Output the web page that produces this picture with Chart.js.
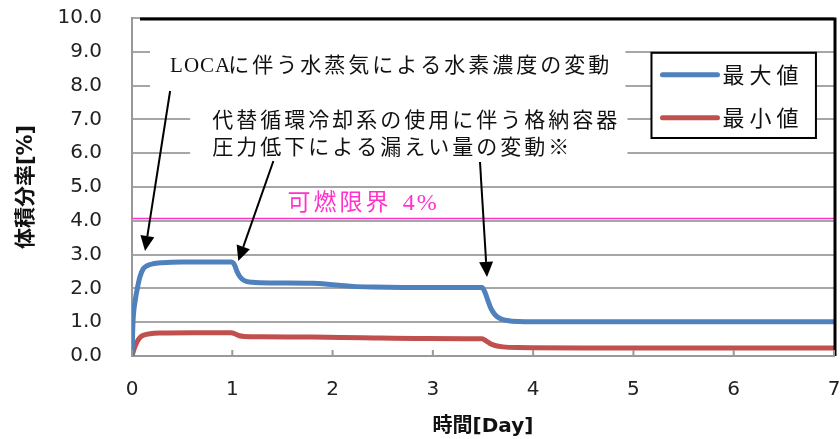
<!DOCTYPE html>
<html>
<head>
<meta charset="utf-8">
<script src="https://cdn.jsdelivr.net/npm/chart.js@4"></script>
<style>
  html, body { margin: 0; padding: 0; background: #fff; }
  #wrap { width: 840px; height: 439px; }
</style>
</head>
<body>
<div id="wrap"><canvas id="chart" width="840" height="439"></canvas></div>
<script>
// values (day, volume %)
const maxDay = [0, 0.01, 0.03, 0.06, 0.08, 0.11, 0.15, 0.21, 0.3, 0.5, 0.8, 0.99, 1.02, 1.05, 1.08, 1.12, 1.2, 1.4, 1.8, 2.0, 2.2, 2.4, 2.7, 3.0, 3.49, 3.52, 3.55, 3.58, 3.62, 3.67, 3.74, 3.85, 4.2, 5, 6, 7];
const maxVal = [0, 1.0, 1.6, 2.1, 2.35, 2.57, 2.67, 2.73, 2.76, 2.78, 2.78, 2.78, 2.71, 2.48, 2.33, 2.23, 2.18, 2.16, 2.15, 2.11, 2.06, 2.04, 2.03, 2.03, 2.03, 1.88, 1.63, 1.4, 1.22, 1.11, 1.05, 1.02, 1.01, 1.01, 1.01, 1.01];
const minDay = [0, 0.02, 0.05, 0.08, 0.12, 0.18, 0.3, 0.6, 0.99, 1.03, 1.07, 1.12, 1.3, 1.8, 2.3, 2.9, 3.49, 3.53, 3.57, 3.62, 3.7, 3.85, 4.5, 7];
const minVal = [0, 0.2, 0.42, 0.55, 0.62, 0.66, 0.68, 0.69, 0.69, 0.65, 0.6, 0.58, 0.57, 0.56, 0.54, 0.52, 0.51, 0.45, 0.37, 0.31, 0.27, 0.25, 0.24, 0.24];
const limitDay = [0, 7];
const limitVal = [4.07, 4.07];

const xTicks = [0, 1, 2, 3, 4, 5, 6, 7];
const seriesNames = ["最大値", "最小値"];
const seriesColors = ["#4f81bd", "#c0504d"];
const limitColor = "#ff33cc";

const yTitle = "体積分率[%]";
const xTitle = "時間[Day]";
const noteLoca = ["LOCA", "に伴う水蒸気による水素濃度の変動"];
const noteLeak = ["代替循環冷却系の使用に伴う格納容器", "圧力低下による漏えい量の変動※"];
const noteLimit = ["可燃限界", "4%"];

// annotation anchors, in data units
const arrows = [
  { from: [0.38, 7.84], to: [0.13, 3.11] },
  { from: [1.41, 5.77], to: [1.06, 2.81] },
  { from: [3.47, 5.74], to: [3.54, 2.34] },
];
const maskBoxes = [
  { x0: 0.18, x1: 4.92, y0: 9.35, y1: 7.75 },
  { x0: 0.58, x1: 4.94, y0: 7.55, y1: 5.55 },
];

const pts = (xs, ys) => xs.map((x, i) => ({ x: x, y: ys[i] }));

const serifCJK = "'Liberation Serif', 'Noto Sans CJK JP', serif";
const sansCJK = "'DejaVu Sans', 'Noto Sans CJK JP', sans-serif";

const annotate = {
  id: "annotate",
  afterDraw: function (chart) {
    const ctx = chart.ctx;
    const xs = chart.scales.x;
    const ys = chart.scales.y;
    const px = (v) => xs.getPixelForValue(v);
    const py = (v) => ys.getPixelForValue(v);
    const area = chart.chartArea;

    ctx.save();
    // frame: black top and right edge
    ctx.strokeStyle = "#000";
    ctx.lineWidth = 3;
    ctx.beginPath();
    ctx.moveTo(area.left + 8, area.top + 1);
    ctx.lineTo(area.right + 1, area.top + 1);
    ctx.lineTo(area.right + 1, area.bottom);
    ctx.stroke();

    // inward tick marks on the x axis
    ctx.strokeStyle = "#999";
    ctx.lineWidth = 2;
    for (const t of xTicks) {
      ctx.beginPath();
      ctx.moveTo(px(t), area.bottom);
      ctx.lineTo(px(t), area.bottom - 6);
      ctx.stroke();
    }

    // white boxes behind the notes
    ctx.fillStyle = "#fff";
    for (const b of maskBoxes) {
      ctx.fillRect(px(b.x0), py(b.y0), px(b.x1) - px(b.x0), py(b.y1) - py(b.y0));
    }

    // notes
    ctx.fillStyle = "#111";
    ctx.textBaseline = "middle";
    ctx.textAlign = "left";
    ctx.font = "21px " + serifCJK;
    ctx.letterSpacing = "1px";
    ctx.fillText(noteLoca[0], px(0.38), py(8.56));
    ctx.letterSpacing = "3px";
    ctx.fillText(noteLoca[1], px(0.96), py(8.56));
    ctx.fillText(noteLeak[0], px(0.8), py(6.93));
    ctx.fillText(noteLeak[1], px(0.8), py(6.14));

    ctx.fillStyle = limitColor;
    ctx.font = "23px " + serifCJK;
    ctx.fillText(noteLimit[0], px(1.55), py(4.5));
    ctx.letterSpacing = "2px";
    ctx.font = "24px " + serifCJK;
    ctx.fillText(noteLimit[1], px(2.7), py(4.5));
    ctx.letterSpacing = "0px";

    // arrows
    ctx.strokeStyle = "#000";
    ctx.fillStyle = "#000";
    ctx.lineWidth = 2;
    for (const a of arrows) {
      const x1 = px(a.from[0]), y1 = py(a.from[1]);
      const x2 = px(a.to[0]), y2 = py(a.to[1]);
      const ang = Math.atan2(y2 - y1, x2 - x1);
      const hl = 15, hw = 7;
      const bx = x2 - hl * Math.cos(ang), by = y2 - hl * Math.sin(ang);
      ctx.beginPath();
      ctx.moveTo(x1, y1);
      ctx.lineTo(bx, by);
      ctx.stroke();
      ctx.beginPath();
      ctx.moveTo(x2, y2);
      ctx.lineTo(bx + hw * Math.sin(ang), by - hw * Math.cos(ang));
      ctx.lineTo(bx - hw * Math.sin(ang), by + hw * Math.cos(ang));
      ctx.closePath();
      ctx.fill();
    }

    // legend box
    const lx0 = px(5.18), lx1 = px(6.82), ly0 = py(8.97), ly1 = py(6.45);
    ctx.fillStyle = "#fff";
    ctx.fillRect(lx0, ly0, lx1 - lx0, ly1 - ly0);
    ctx.strokeStyle = "#000";
    ctx.lineWidth = 2;
    ctx.strokeRect(lx0, ly0, lx1 - lx0, ly1 - ly0);
    const rows = [ly0 + 22, ly0 + 65];
    ctx.lineCap = "round";
    ctx.font = "22px 'Noto Sans CJK JP', sans-serif";
    ctx.letterSpacing = "5px";
    for (let i = 0; i < seriesNames.length; i++) {
      ctx.strokeStyle = seriesColors[i];
      ctx.lineWidth = 5;
      ctx.beginPath();
      ctx.moveTo(lx0 + 11, rows[i]);
      ctx.lineTo(lx0 + 66, rows[i]);
      ctx.stroke();
      ctx.fillStyle = "#111";
      ctx.fillText(seriesNames[i], lx0 + 71, rows[i]);
    }
    ctx.restore();
  },
};

new Chart(document.getElementById("chart"), {
  type: "line",
  data: {
    datasets: [
      {
        label: seriesNames[0],
        data: pts(maxDay, maxVal),
        borderColor: seriesColors[0],
        borderWidth: 5,
        cubicInterpolationMode: "monotone",
      },
      {
        label: seriesNames[1],
        data: pts(minDay, minVal),
        borderColor: seriesColors[1],
        borderWidth: 5,
        cubicInterpolationMode: "monotone",
      },
      {
        label: "limit",
        data: pts(limitDay, limitVal),
        borderColor: limitColor,
        borderWidth: 1.5,
      },
    ],
  },
  options: {
    responsive: false,
    animation: false,
    layout: { padding: { left: 14, right: 6, top: 18, bottom: 0 } },
    elements: { point: { radius: 0 } },
    plugins: { legend: { display: false }, tooltip: { enabled: false } },
    scales: {
      x: {
        type: "linear",
        min: 0,
        max: 7,
        afterBuildTicks: (s) => { s.ticks = xTicks.map((v) => ({ value: v })); },
        grid: { drawOnChartArea: false, drawTicks: false },
        border: { color: "#999", width: 2 },
        ticks: { padding: 22, color: "#222", font: { family: "'DejaVu Sans'", size: 20 } },
        title: {
          display: true,
          text: xTitle,
          color: "#111",
          padding: { top: 12, bottom: 0 },
          font: { family: sansCJK, size: 20, weight: "bold" },
        },
        afterFit: (s) => { s.height = 83; s.paddingLeft = 0; s.paddingRight = 0; },
      },
      y: {
        min: 0,
        max: 10,
        ticks: {
          stepSize: 1,
          padding: 30,
          color: "#222",
          font: { family: "'DejaVu Sans'", size: 20 },
          callback: (v) => v.toFixed(1),
        },
        grid: { color: "#a6a6a6", lineWidth: 2, drawTicks: false },
        border: { color: "#999", width: 2 },
        title: {
          display: true,
          text: yTitle,
          color: "#111",
          padding: 0,
          font: { family: sansCJK, size: 21, weight: "bold" },
        },
        afterFit: (s) => { s.width = 118; s.paddingTop = 0; s.paddingBottom = 0; },
      },
    },
  },
  plugins: [annotate],
});
</script>
</body>
</html>
